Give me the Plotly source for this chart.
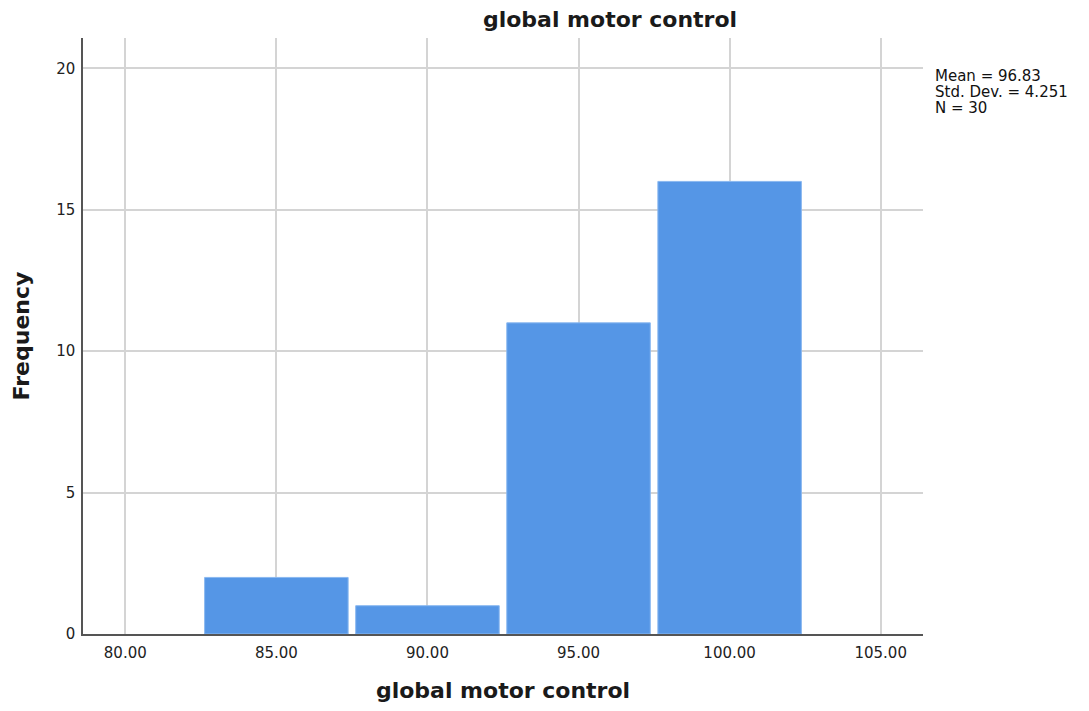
import plotly.graph_objects as go

# Histogram bins (midpoints) and their counts
bin_mids = [85.0, 90.0, 95.0, 100.0]
counts = [2, 1, 11, 16]
bin_width = 5.0

x_ticks = [80, 85, 90, 95, 100, 105]
x_tick_labels = ["80.00", "85.00", "90.00", "95.00", "100.00", "105.00"]
y_ticks = [0, 5, 10, 15, 20]

stats_lines = ["Mean = 96.83", "Std. Dev. = 4.251", "N = 30"]

FONT = "DejaVu Sans"
TITLE_SIZE = 22
TICK_SIZE = 15

fig = go.Figure()
fig.add_trace(go.Bar(
    x=bin_mids,
    y=counts,
    width=[bin_width * 0.95] * len(bin_mids),
    marker=dict(color="#5596e6", line=dict(color="#8ab8f0", width=1)),
    hoverinfo="x+y",
))

fig.update_layout(
    width=1089,
    height=711,
    margin=dict(l=83, r=166, t=38, b=77),
    plot_bgcolor="white",
    paper_bgcolor="white",
    showlegend=False,
    font=dict(family=FONT, color="#222222", size=TICK_SIZE),
    title=dict(
        text="<b>global motor control</b>",
        x=610 / 1089,
        xanchor="center",
        y=1 - 19 / 711,
        yanchor="middle",
        font=dict(family=FONT, size=TITLE_SIZE, color="#1a1a1a"),
    ),
    xaxis=dict(
        range=[78.6, 106.4],
        tickvals=x_ticks,
        ticktext=x_tick_labels,
        showgrid=True,
        gridcolor="#d4d4d4",
        gridwidth=2,
        zeroline=False,
        showline=True,
        linecolor="#555555",
        linewidth=1.5,
        ticks="",
        ticklabelstandoff=4,
        tickfont=dict(family=FONT, size=TICK_SIZE, color="#222222"),
        title=dict(
            text="<b>global motor control</b>",
            font=dict(family=FONT, size=TITLE_SIZE, color="#1a1a1a"),
            standoff=22,
        ),
    ),
    yaxis=dict(
        range=[0, 21.07],
        tickvals=y_ticks,
        showgrid=True,
        gridcolor="#d4d4d4",
        gridwidth=2,
        zeroline=False,
        showline=True,
        linecolor="#555555",
        linewidth=1.5,
        ticks="",
        ticklabelstandoff=3,
        tickfont=dict(family=FONT, size=TICK_SIZE, color="#222222"),
        title=dict(
            text="<b>Frequency</b>",
            font=dict(family=FONT, size=TITLE_SIZE, color="#1a1a1a"),
            standoff=20,
        ),
    ),
)

# Summary statistics, one line per annotation for tight line spacing
for i, line in enumerate(stats_lines):
    fig.add_annotation(
        x=1.0, xref="paper", xshift=11,
        y=1 - (76 - 38) / 596, yref="paper", yshift=-16 * i,
        text=line,
        showarrow=False,
        xanchor="left",
        yanchor="middle",
        align="left",
        borderpad=0,
        font=dict(family=FONT, size=TICK_SIZE, color="#111111"),
    )

fig.write_html("out.html")
